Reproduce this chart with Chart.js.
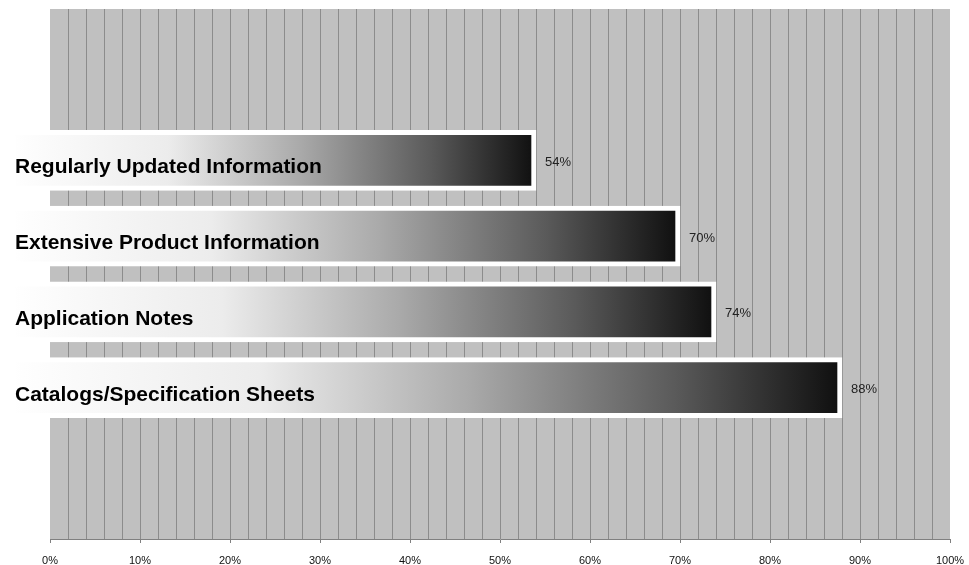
<!DOCTYPE html>
<html lang="en">
<head>
  <meta charset="UTF-8" />
  <title>Website Content Survey</title>
  <script src="https://cdn.jsdelivr.net/npm/chart.js"></script>
  <style>
    body {
      margin: 0;
      background: #ffffff;
    }
    .wrap {
      width: 969px;
      height: 565px;
      position: relative;
    }
  </style>
</head>
<body>
  <div class="wrap">
    <canvas id="barChart"></canvas>
  </div>

  <script>
    // categories top to bottom, values in percent
    const categories = [
      'Regularly Updated Information',
      'Extensive Product Information',
      'Application Notes',
      'Catalogs/Specification Sheets'
    ];
    const values = [54, 70, 74, 88];
    const tickStep = 2;       // grid every 2%
    const labelStep = 10;     // labels every 10%
    const barBase = -4.4;     // bars start a bit left of the plot area

    // two empty slots above and below so the bars sit where they do in the original
    const labels = ['', ''].concat(categories, ['', '']);
    const data = [null, null].concat(values, [null, null]);

    const FONT = '"Liberation Sans", Arial, sans-serif';

    const plotBg = {
      id: 'plotBg',
      beforeDraw(chart) {
        const { ctx, chartArea: a } = chart;
        ctx.save();
        ctx.fillStyle = '#c0c0c0';
        ctx.fillRect(a.left, a.top, a.right - a.left, a.bottom - a.top);
        ctx.restore();
      }
    };

    // category names inside the bars, percentages after them
    const barText = {
      id: 'barText',
      afterDatasetsDraw(chart) {
        const ctx = chart.ctx;
        const meta = chart.getDatasetMeta(0);
        ctx.save();
        ctx.textAlign = 'left';
        meta.data.forEach((bar, i) => {
          const v = data[i];
          if (v == null) return;
          ctx.textBaseline = 'alphabetic';
          ctx.font = 'bold 21px ' + FONT;
          ctx.fillStyle = '#000';
          ctx.fillText(labels[i], 15, bar.y + 13);
          ctx.textBaseline = 'middle';
          ctx.font = '13px ' + FONT;
          ctx.fillStyle = '#222';
          ctx.fillText(v + '%', bar.x + 9, bar.y + 2);
        });
        ctx.restore();
      }
    };

    function barGradient(c) {
      const chart = c.chart;
      if (!chart.chartArea || c.type !== 'data' || c.raw == null) return '#888';
      const xs = chart.scales.x;
      const x0 = xs.getPixelForValue(barBase);
      const x1 = xs.getPixelForValue(c.raw);
      const g = chart.ctx.createLinearGradient(x0, 0, x1, 0);
      g.addColorStop(0, '#ffffff');
      g.addColorStop(0.3, '#ececec');
      g.addColorStop(0.55, '#aaaaaa');
      g.addColorStop(0.8, '#5a5a5a');
      g.addColorStop(1, '#0e0e0e');
      return g;
    }

    new Chart(document.getElementById('barChart').getContext('2d'), {
      type: 'bar',
      data: {
        labels: labels,
        datasets: [{
          data: data,
          base: barBase,
          clip: false,
          backgroundColor: barGradient,
          borderColor: '#ffffff',
          borderWidth: 5,
          borderSkipped: false,
          barThickness: 60
        }]
      },
      options: {
        indexAxis: 'y',
        responsive: true,
        maintainAspectRatio: false,
        animation: false,
        layout: { padding: { left: 15, right: 19, top: 9, bottom: 0 } },
        plugins: {
          legend: { display: false },
          tooltip: { enabled: false }
        },
        scales: {
          x: {
            min: 0,
            max: 100,
            afterFit(scale) {
              scale.height = 26;
              scale.paddingLeft = 0;
              scale.paddingRight = 0;
            },
            ticks: {
              stepSize: tickStep,
              autoSkip: false,
              maxRotation: 0,
              padding: 11,
              color: '#111',
              font: { family: FONT, size: 11 },
              callback: v => (v % labelStep === 0 ? v + '%' : '')
            },
            grid: {
              color: c => (c.tick && (c.tick.value === 0 || c.tick.value === 100) ? 'rgba(0,0,0,0)' : '#8c8c8c'),
              tickColor: c => (c.tick && c.tick.value % labelStep === 0 ? '#808080' : 'rgba(0,0,0,0)'),
              tickLength: 4
            },
            border: { color: '#808080' }
          },
          y: {
            offset: false,
            afterFit(scale) { scale.width = 35; },
            grid: { display: false, drawTicks: false },
            border: { display: false },
            ticks: { display: false }
          }
        }
      },
      plugins: [plotBg, barText]
    });
  </script>
</body>
</html>
